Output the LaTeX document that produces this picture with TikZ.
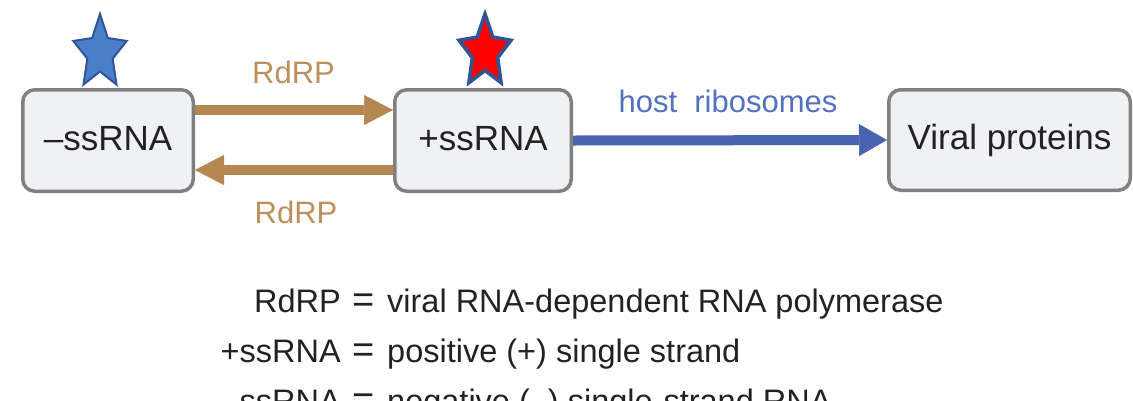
\documentclass[tikz,border=0pt]{standalone}
\usepackage{fontspec}
\setmainfont{Liberation Sans}
\usetikzlibrary{arrows.meta}
\definecolor{boxfill}{HTML}{F0F1F4}
\definecolor{boxline}{HTML}{808080}
\definecolor{tanarrow}{HTML}{B58650}
\definecolor{tanlbl}{HTML}{BC8F5C}
\definecolor{hostarrow}{HTML}{4A63B0}
\definecolor{hostlbl}{HTML}{5470BF}
\definecolor{txtdark}{HTML}{222222}
\definecolor{starblue}{HTML}{4A7EC8}
\definecolor{starline}{HTML}{2F5597}
\definecolor{starred}{HTML}{FF0000}
\begin{document}
\begin{tikzpicture}[x=1pt,y=-1pt,
  box/.style={draw=boxline, fill=boxfill, line width=3.5pt, rounded corners=12pt,
    inner sep=0pt, text=txtdark, text height=25pt, text depth=6pt,
    minimum height=101.5pt, font=\fontsize{35}{42}\selectfont},
  tanconn/.style={draw=tanarrow, line width=10pt,
    -{Triangle[length=29pt,width=30pt,line width=0.5pt]}},
  hostconn/.style={draw=hostarrow, line width=10pt,
    -{Triangle[length=28pt,width=32pt,line width=0.5pt]}},
  rdrplbl/.style={text=tanlbl, inner sep=0pt, anchor=base, font=\fontsize{31}{37}\selectfont},
  hostlabel/.style={text=hostlbl, inner sep=0pt, anchor=base, font=\fontsize{31}{37}\selectfont},
  legend/.style={text=txtdark, inner sep=0pt, font=\fontsize{32.5}{39}\selectfont},
  legendeq/.style={text=txtdark, inner sep=0pt, anchor=base, font=\fontsize{38}{39}\selectfont},
  bluestar/.style={fill=starblue, draw=starline, line width=2pt, line join=miter},
  redstar/.style={fill=starred, draw=starline, line width=3.5pt, line join=miter}
]
\useasboundingbox (0,0) rectangle (1133,400);
\clip (0,0) rectangle (1133,400);

% stars
\begin{scope}[shift={(100,53)}, xscale=0.72, yscale=-1]
  \draw[bluestar] (90:39) -- (126:18.5) -- (162:39) -- (198:18.5) -- (234:39)
    -- (270:18.5) -- (306:39) -- (342:18.5) -- (18:39) -- (54:18.5) -- cycle;
\end{scope}
\begin{scope}[shift={(485,52)}, xscale=0.72, yscale=-1]
  \draw[redstar] (90:38) -- (126:18.5) -- (162:38) -- (198:18.5) -- (234:38)
    -- (270:18.5) -- (306:38) -- (342:18.5) -- (18:38) -- (54:18.5) -- cycle;
\end{scope}

% boxes
\node[box, minimum width=170.5pt] (neg) at (108,140.5) {\char"2013ssRNA};
\node[box, minimum width=176.5pt] (pos) at (483,140.5) {+ssRNA};
\node[box, minimum width=241.5pt, minimum height=100.5pt] (prot) at (1009.5,140) {Viral proteins};

% connectors
\draw[tanconn] ([yshift=30.5pt]neg.east) -- ([yshift=30.5pt]pos.west);
\draw[tanconn] ([yshift=-29.5pt]pos.west) -- ([yshift=-29.5pt]neg.east);
\draw[hostconn] (pos.east) -- (prot.west);

% connector labels
\node[rdrplbl] (rdrpTop) at (293.5,83) {RdRP};
\node[rdrplbl] (rdrpBot) at (296,223) {RdRP};
\node[hostlabel] (host) at (728,112) {host\ \ ribosomes};

% legend
\node[legend, anchor=base east] (l1a) at (341,312) {RdRP};
\node[legendeq] (l1e) at (363.5,312) {=};
\node[legend, anchor=base west] (l1b) at (387,312) {viral RNA-dependent RNA polymerase};
\node[legend, anchor=base east] (l2a) at (341,362) {+ssRNA};
\node[legendeq] (l2e) at (363.5,362) {=};
\node[legend, anchor=base west] (l2b) at (387,362) {positive (+) single strand};
\node[legend, anchor=base east] (l3a) at (341,412) {\char"2013ssRNA};
\node[legendeq] (l3e) at (363.5,412) {=};
\node[legend, anchor=base west] (l3b) at (387,412) {negative (\char"2013) single-strand RNA};
\end{tikzpicture}
\end{document}
